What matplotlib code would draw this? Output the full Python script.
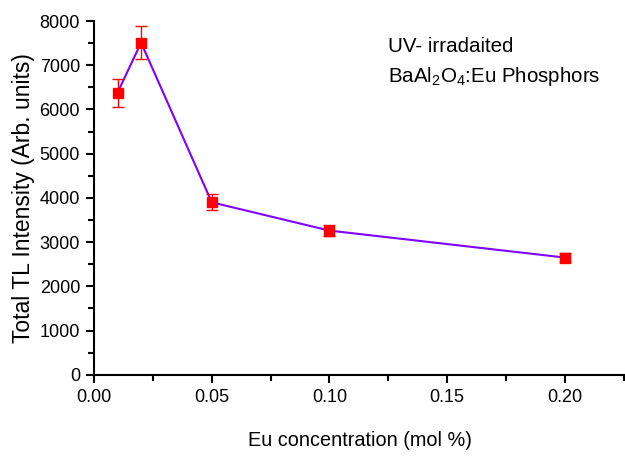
import numpy as np
import matplotlib.pyplot as plt
from matplotlib.ticker import MultipleLocator

#Data
eu_conc = [0.01, 0.02, 0.05, 0.10, 0.20]
tl_intensity = [6380, 7510, 3900, 3260, 2650]
tl_error = [320, 370, 180, 130, 100]

#Arial-like font
fam = 'Liberation Sans'
plt.rcParams['font.family'] = [fam, 'DejaVu Sans']
plt.rcParams['mathtext.fontset'] = 'custom'
plt.rcParams['mathtext.rm'] = fam
plt.rcParams['mathtext.it'] = fam

fig = plt.figure(figsize=(6.25, 4.57), dpi=100)
ax = fig.add_axes([0.1504, 0.180, 0.8496, 0.774])

ax.plot(eu_conc, tl_intensity, '-', color='#8000ff', linewidth=1.5, zorder=2)
ax.errorbar(eu_conc, tl_intensity, yerr=tl_error, fmt='s', color='red',
            markersize=7.5, ecolor='red', elinewidth=1, capsize=4, capthick=1, zorder=3)

ax.set_xlim(0, 0.2255)
ax.set_ylim(0, 8000)
ax.xaxis.set_major_locator(MultipleLocator(0.05))
ax.xaxis.set_minor_locator(MultipleLocator(0.025))
ax.yaxis.set_major_locator(MultipleLocator(1000))
ax.yaxis.set_minor_locator(MultipleLocator(500))
ax.xaxis.set_major_formatter(plt.FormatStrFormatter('%.2f'))

for s in ['top', 'right']:
	ax.spines[s].set_visible(False)
for s in ['left', 'bottom']:
	ax.spines[s].set_linewidth(1.5)

ax.tick_params(which='major', direction='out', length=6, width=1.5, labelsize=13, pad=4)
ax.tick_params(which='minor', direction='out', length=4, width=1.5)

ax.set_xlabel('Eu concentration (mol %)', fontsize=14.3, labelpad=18)
ax.set_ylabel('Total TL Intensity (Arb. units)', fontsize=16.5, labelpad=3)

#Annotation (display coords, origin bottom-left)
ax.text(388, 457-46, 'UV- irradaited', transform=None, fontsize=14.8, va='center')
ax.text(388, 457-76, 'BaAl$_2$O$_4$:Eu Phosphors', transform=None, fontsize=14.8, va='center')

fig.savefig('out.png', dpi=100)
